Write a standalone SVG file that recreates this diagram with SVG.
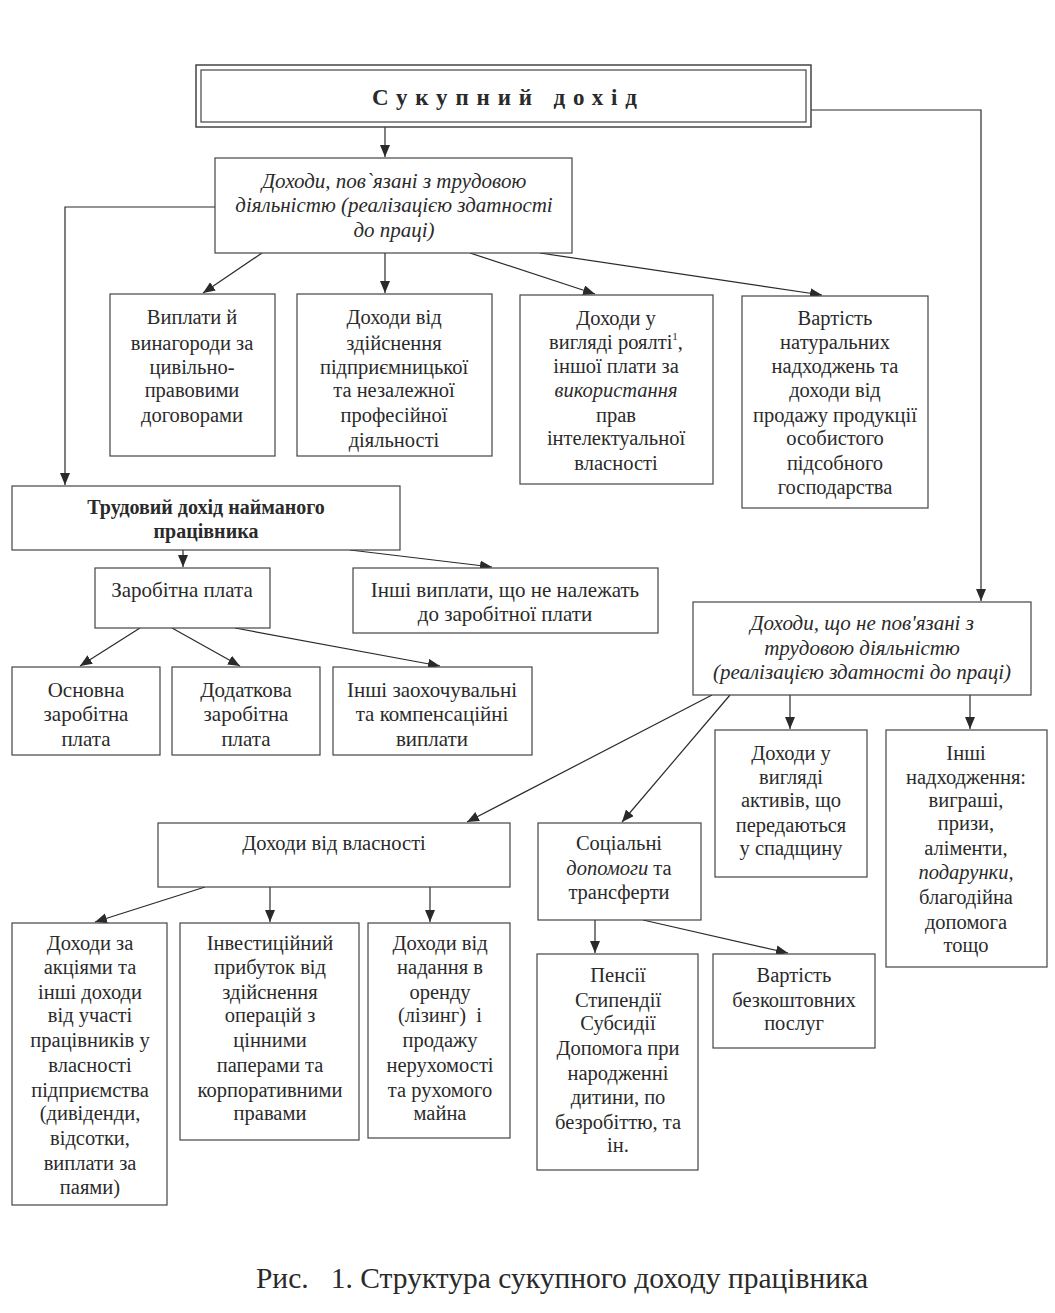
<svg xmlns="http://www.w3.org/2000/svg" width="1055" height="1313" viewBox="0 0 1055 1313">
<defs>
<marker id="arr" markerUnits="userSpaceOnUse" markerWidth="13" markerHeight="11" refX="12" refY="5" orient="auto">
<path d="M0,0 L12,5 L0,10 z" fill="#2a2a2a"/>
</marker>
<style>
.box{fill:#fff;stroke:#444;stroke-width:1.2}
.t{font-family:"Liberation Serif","Times New Roman",serif;font-size:20.5px;fill:#2a2a2a;text-anchor:middle}
.i{font-style:italic;font-size:21px}
.n{font-size:21px}
.b{font-weight:bold;font-size:20px}
.c{fill:none;stroke:#2a2a2a;stroke-width:1.2;marker-end:url(#arr)}
</style>
</defs>
<rect width="1055" height="1313" fill="#fff"/>

<g id="connectors">
<path class="c" d="M385,127 L385,157"/>
<path class="c" d="M811,110 L981,110 L981,601"/>
<path class="c" d="M215,207 L65,207 L65,485"/>
<path class="c" d="M262,253 L203,293"/>
<path class="c" d="M385,253 L385,293"/>
<path class="c" d="M470,253 L595,294"/>
<path class="c" d="M540,253 L822,295"/>
<path class="c" d="M183,550 L183,567"/>
<path class="c" d="M350,550 L492,567"/>
<path class="c" d="M140,628 L80,666"/>
<path class="c" d="M172,628 L240,666"/>
<path class="c" d="M235,628 L440,666"/>
<path class="c" d="M712,695 L467,822"/>
<path class="c" d="M730,695 L622,822"/>
<path class="c" d="M790,695 L790,729"/>
<path class="c" d="M970,695 L970,729"/>
<path class="c" d="M205,887 L95,922"/>
<path class="c" d="M270,887 L270,922"/>
<path class="c" d="M430,887 L430,922"/>
<path class="c" d="M595,920 L595,953"/>
<path class="c" d="M643,920 L788,953"/>
</g>

<g id="n_total">
<rect x="196" y="65" width="615" height="62" fill="#fff" stroke="#444" stroke-width="1.5"/>
<rect x="201" y="70" width="605" height="52" fill="none" stroke="#444" stroke-width="1.2"/>
<text x="372" y="105" font-family="Liberation Serif,serif" font-size="23" font-weight="bold" fill="#2a2a2a" textLength="265" lengthAdjust="spacing">Сукупний  дохід</text>
</g>

<g id="n_labor">
<rect class="box" x="215" y="158" width="357" height="95"/>
<text class="t i" x="394" y="188">Доходи, пов`язані з трудовою</text>
<text class="t i" x="394" y="212">діяльністю (реалізацією здатності</text>
<text class="t i" x="394" y="237">до праці)</text>
</g>

<g id="n_civil">
<rect class="box" x="110" y="294" width="165" height="162"/>
<text class="t" x="192" y="324">Виплати й</text>
<text class="t" x="192" y="350">винагороди за</text>
<text class="t" x="192" y="374">цивільно-</text>
<text class="t" x="192" y="397">правовими</text>
<text class="t" x="192" y="422">договорами</text>
</g>

<g id="n_business">
<rect class="box" x="297" y="294" width="195" height="162"/>
<text class="t" x="394" y="324">Доходи від</text>
<text class="t" x="394" y="350">здійснення</text>
<text class="t" x="394" y="374">підприємницької</text>
<text class="t" x="394" y="397">та незалежної</text>
<text class="t" x="394" y="422">професійної</text>
<text class="t" x="394" y="447">діяльності</text>
</g>

<g id="n_royalty">
<rect class="box" x="520" y="295" width="193" height="189"/>
<text class="t" x="616" y="325">Доходи у</text>
<text class="t" x="616" y="349">вигляді роялті<tspan font-size="11" dy="-9">1</tspan><tspan dy="9">,</tspan></text>
<text class="t" x="616" y="373">іншої плати за</text>
<text class="t" x="616" y="397" font-style="italic">використання</text>
<text class="t" x="616" y="422">прав</text>
<text class="t" x="616" y="445">інтелектуальної</text>
<text class="t" x="616" y="470">власності</text>
</g>

<g id="n_natural">
<rect class="box" x="742" y="296" width="186" height="212"/>
<text class="t" x="835" y="325">Вартість</text>
<text class="t" x="835" y="349">натуральних</text>
<text class="t" x="835" y="373">надходжень та</text>
<text class="t" x="835" y="397">доходи від</text>
<text class="t" x="835" y="422">продажу продукції</text>
<text class="t" x="835" y="445">особистого</text>
<text class="t" x="835" y="470">підсобного</text>
<text class="t" x="835" y="494">господарства</text>
</g>

<g id="n_employee">
<rect class="box" x="12" y="486" width="388" height="64"/>
<text class="t b" x="206" y="514">Трудовий дохід найманого</text>
<text class="t b" x="206" y="538">працівника</text>
</g>

<g id="n_wage">
<rect class="box" x="95" y="568" width="175" height="60"/>
<text class="t n" x="182" y="597">Заробітна плата</text>
</g>

<g id="n_otherpay">
<rect class="box" x="353" y="568" width="305" height="65"/>
<text class="t n" x="505" y="597">Інші виплати, що не належать</text>
<text class="t n" x="505" y="621">до заробітної плати</text>
</g>

<g id="n_basic">
<rect class="box" x="12" y="667" width="148" height="88"/>
<text class="t n" x="86" y="697">Основна</text>
<text class="t n" x="86" y="721">заробітна</text>
<text class="t n" x="86" y="746">плата</text>
</g>

<g id="n_additional">
<rect class="box" x="172" y="667" width="148" height="88"/>
<text class="t n" x="246" y="697">Додаткова</text>
<text class="t n" x="246" y="721">заробітна</text>
<text class="t n" x="246" y="746">плата</text>
</g>

<g id="n_incentive">
<rect class="box" x="333" y="667" width="199" height="88"/>
<text class="t n" x="432" y="697">Інші заохочувальні</text>
<text class="t n" x="432" y="721">та компенсаційні</text>
<text class="t n" x="432" y="746">виплати</text>
</g>

<g id="n_nonlabor">
<rect class="box" x="693" y="602" width="338" height="93"/>
<text class="t i" x="862" y="630">Доходи, що не пов'язані з</text>
<text class="t i" x="862" y="655">трудовою діяльністю</text>
<text class="t i" x="862" y="679">(реалізацією здатності до праці)</text>
</g>

<g id="n_inherit">
<rect class="box" x="715" y="730" width="152" height="147"/>
<text class="t" x="791" y="760">Доходи у</text>
<text class="t" x="791" y="784">вигляді</text>
<text class="t" x="791" y="807">активів, що</text>
<text class="t" x="791" y="832">передаються</text>
<text class="t" x="791" y="855">у спадщину</text>
</g>

<g id="n_otherinc">
<rect class="box" x="886" y="730" width="161" height="237"/>
<text class="t" x="966" y="760">Інші</text>
<text class="t" x="966" y="784">надходження:</text>
<text class="t" x="966" y="807">виграші,</text>
<text class="t" x="966" y="830">призи,</text>
<text class="t" x="966" y="855">аліменти,</text>
<text class="t" x="966" y="879" font-style="italic">подарунки,</text>
<text class="t" x="966" y="904">благодійна</text>
<text class="t" x="966" y="929">допомога</text>
<text class="t" x="966" y="952">тощо</text>
</g>

<g id="n_property">
<rect class="box" x="158" y="823" width="352" height="64"/>
<text class="t" x="334" y="850">Доходи від власності</text>
</g>

<g id="n_social">
<rect class="box" x="538" y="823" width="163" height="97"/>
<text class="t" x="619" y="850">Соціальні</text>
<text class="t" x="619" y="875"><tspan font-style="italic">допомоги</tspan> та</text>
<text class="t" x="619" y="899">трансферти</text>
</g>

<g id="n_shares">
<rect class="box" x="12" y="923" width="155" height="282"/>
<text class="t" x="90" y="950">Доходи за</text>
<text class="t" x="90" y="974">акціями та</text>
<text class="t" x="90" y="999">інші доходи</text>
<text class="t" x="90" y="1022">від участі</text>
<text class="t" x="90" y="1047">працівників у</text>
<text class="t" x="90" y="1072">власності</text>
<text class="t" x="90" y="1097">підприємства</text>
<text class="t" x="90" y="1120">(дивіденди,</text>
<text class="t" x="90" y="1145">відсотки,</text>
<text class="t" x="90" y="1170">виплати за</text>
<text class="t" x="90" y="1194">паями)</text>
</g>

<g id="n_invest">
<rect class="box" x="180" y="923" width="179" height="217"/>
<text class="t" x="270" y="950">Інвестиційний</text>
<text class="t" x="270" y="974">прибуток від</text>
<text class="t" x="270" y="999">здійснення</text>
<text class="t" x="270" y="1022">операцій з</text>
<text class="t" x="270" y="1047">цінними</text>
<text class="t" x="270" y="1072">паперами та</text>
<text class="t" x="270" y="1097">корпоративними</text>
<text class="t" x="270" y="1120">правами</text>
</g>

<g id="n_rent">
<rect class="box" x="368" y="923" width="142" height="215"/>
<text class="t" x="440" y="950">Доходи від</text>
<text class="t" x="440" y="974">надання в</text>
<text class="t" x="440" y="999">оренду</text>
<text class="t" x="440" y="1022" style="white-space:pre">(лізинг)  і</text>
<text class="t" x="440" y="1047">продажу</text>
<text class="t" x="440" y="1072">нерухомості</text>
<text class="t" x="440" y="1097">та рухомого</text>
<text class="t" x="440" y="1120">майна</text>
</g>

<g id="n_pension">
<rect class="box" x="537" y="954" width="161" height="216"/>
<text class="t" x="618" y="982">Пенсії</text>
<text class="t" x="618" y="1007">Стипендії</text>
<text class="t" x="618" y="1030">Субсидії</text>
<text class="t" x="618" y="1055">Допомога при</text>
<text class="t" x="618" y="1080">народженні</text>
<text class="t" x="618" y="1104">дитини, по</text>
<text class="t" x="618" y="1129">безробіттю, та</text>
<text class="t" x="618" y="1152">ін.</text>
</g>

<g id="n_free">
<rect class="box" x="713" y="954" width="162" height="94"/>
<text class="t" x="794" y="982">Вартість</text>
<text class="t" x="794" y="1007">безкоштовних</text>
<text class="t" x="794" y="1030">послуг</text>
</g>

<g id="caption">
<text x="562" y="1288" font-family="Liberation Serif,serif" font-size="29.5" fill="#2a2a2a" text-anchor="middle" style="white-space:pre">Рис.   1. Структура сукупного доходу працівника</text>
</g>
</svg>
